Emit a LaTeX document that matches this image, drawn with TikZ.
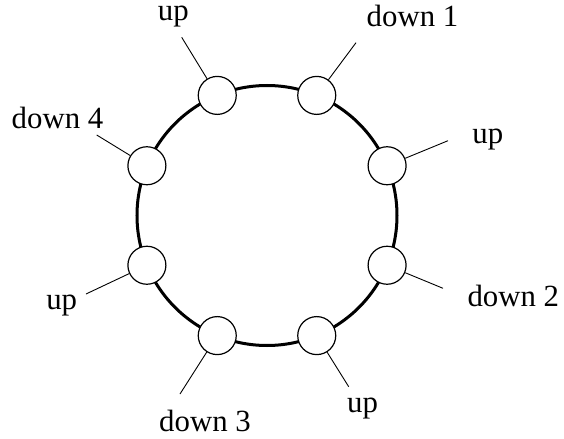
\documentclass[tikz,border=0pt]{standalone}
\usepackage{fontspec}
\setmainfont{Liberation Serif}
\usetikzlibrary{calc}

\begin{document}
\begin{tikzpicture}[x=0.5pt, y=-0.5pt,
    station/.style={draw, circle, fill=white, line width=0.6pt, minimum size=19pt, inner sep=0pt},
    lead/.style={line width=0.45pt},
    tag/.style={anchor=base, inner sep=0pt, font=\fontsize{15.4}{18}\selectfont}]
    \useasboundingbox (0,0) rectangle (564,439);

    % Ring
    \coordinate (c) at (267,215.5);
    \draw[line width=1.5pt] (c) circle (65pt);

    % Stations on the ring
    \foreach \n/\a in {s1/112.5, s2/67.5, s3/22.5, s4/-22.5, s5/-67.5, s6/-112.5, s7/-157.5, s8/157.5}
        \node[station] (\n) at ($(c)+(\a:65pt)$) {};

    % Free ends of the leads
    \coordinate (e1) at (181.7,37.3);
    \coordinate (e2) at (356,42.7);
    \coordinate (e3) at (448,140.7);
    \coordinate (e4) at (443,288.3);
    \coordinate (e5) at (348.7,386.7);
    \coordinate (e6) at (180,394);
    \coordinate (e7) at (86,294);
    \coordinate (e8) at (96.7,135);

    % Leads
    \foreach \i in {1,...,8}
        \draw[lead] (s\i) -- (e\i);

    % Labels
    \node[tag] (t1) at (173.3,20) {up};
    \node[tag] (t2) at (412.5,26) {down 1};
    \node[tag] (t3) at (487.8,143.3) {up};
    \node[tag] (t4) at (513.3,306.3) {down 2};
    \node[tag] (t5) at (362.5,412.3) {up};
    \node[tag] (t6) at (205,431.3) {down 3};
    \node[tag] (t7) at (61.7,309.7) {up};
    \node[tag] (t8) at (57.5,128.3) {down 4};
\end{tikzpicture}
\end{document}
